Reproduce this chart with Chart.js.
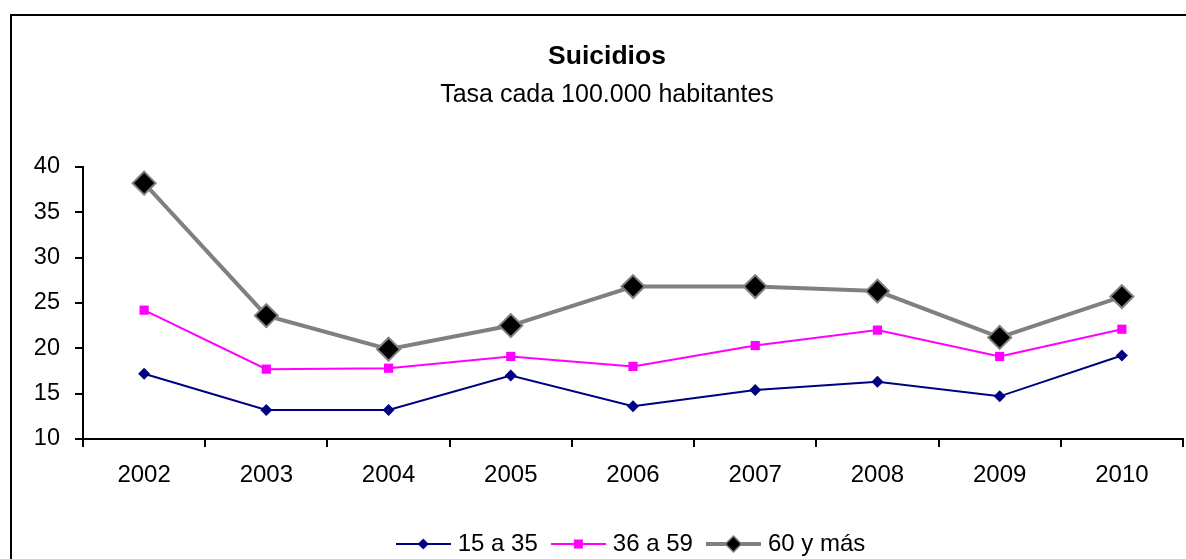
<!DOCTYPE html>
<html>
<head>
<meta charset="utf-8">
<title>Suicidios</title>
<script src="https://cdn.jsdelivr.net/npm/chart.js@4/dist/chart.umd.min.js"></script>
<style>
  html, body { margin: 0; padding: 0; background: #fff; overflow: hidden; }
  #wrap { position: absolute; left: 0; top: 0; }
</style>
</head>
<body>
<div id="wrap"><canvas id="chart" width="1216" height="566"></canvas></div>
<script>
// Categories and series (tasa cada 100.000 habitantes)
const years = ['2002', '2003', '2004', '2005', '2006', '2007', '2008', '2009', '2010'];
const tasa15a35 = [17.2, 13.2, 13.2, 17.0, 13.6, 15.4, 16.3, 14.7, 19.2];
const tasa36a59 = [24.2, 17.7, 17.8, 19.1, 18.0, 20.3, 22.0, 19.1, 22.1];
const tasa60ymas = [38.2, 23.6, 19.9, 22.5, 26.8, 26.8, 26.3, 21.2, 25.7];
const seriesNames = ['15 a 35', '36 a 59', '60 y más'];
const yTicks = [10, 15, 20, 25, 30, 35, 40];

const FONT = '"Liberation Sans", Arial, sans-serif';
Chart.defaults.color = '#000';
Chart.defaults.font.family = FONT;

// Legend swatch: short line segment with the series marker in the middle
function swatch(color, lineW, marker, fill, border, size) {
  const c = document.createElement('canvas');
  c.width = 55; c.height = 24;
  const g = c.getContext('2d');
  const cy = 12, cx = 27.5;
  g.strokeStyle = color; g.lineWidth = lineW;
  g.beginPath(); g.moveTo(0, cy); g.lineTo(55, cy); g.stroke();
  g.fillStyle = fill;
  g.beginPath();
  if (marker === 'diamond') {
    g.moveTo(cx, cy - size); g.lineTo(cx + size, cy); g.lineTo(cx, cy + size); g.lineTo(cx - size, cy); g.closePath();
  } else {
    g.rect(cx - size, cy - size, size * 2, size * 2);
  }
  g.fill();
  if (border) { g.strokeStyle = border; g.lineWidth = 1.5; g.stroke(); }
  return c;
}
const legendIcons = [
  swatch('#000080', 2, 'diamond', '#000080', null, 5.5),
  swatch('#FF00FF', 2, 'square', '#FF00FF', null, 4.5),
  swatch('#808080', 4, 'diamond', '#000000', '#808080', 8)
];

// Frame around the chart
const framePlugin = {
  id: 'frame',
  beforeDraw(chart) {
    const ctx = chart.ctx;
    ctx.save();
    ctx.fillStyle = '#fff';
    ctx.fillRect(0, 0, chart.width, chart.height);
    ctx.strokeStyle = '#000';
    ctx.lineWidth = 2;
    ctx.strokeRect(11, 15, 1400, 800);
    ctx.restore();
  }
};

new Chart(document.getElementById('chart'), {
  type: 'line',
  data: {
    labels: years,
    datasets: [
      {
        label: seriesNames[0], data: tasa15a35,
        borderColor: '#000080', backgroundColor: '#000080', borderWidth: 2,
        pointStyle: 'rectRot', pointRadius: 6, pointBorderWidth: 0, pointHoverRadius: 6
      },
      {
        label: seriesNames[1], data: tasa36a59,
        borderColor: '#FF00FF', backgroundColor: '#FF00FF', borderWidth: 2,
        pointStyle: 'rect', pointRadius: 6.5, pointBorderWidth: 0, pointHoverRadius: 6.5
      },
      {
        label: seriesNames[2], data: tasa60ymas,
        borderColor: '#808080', backgroundColor: '#000000', borderWidth: 4,
        pointStyle: 'rectRot', pointRadius: 11.5, pointBorderColor: '#808080',
        pointBorderWidth: 2, pointHoverRadius: 11.5
      }
    ]
  },
  options: {
    responsive: false,
    animation: false,
    events: [],
    layout: { padding: { left: 31, right: 33, top: 0, bottom: 0 } },
    elements: { line: { tension: 0 } },
    clip: false,
    plugins: {
      title: {
        display: true, text: 'Suicidios',
        font: { family: FONT, size: 26.5, weight: 'bold' },
        padding: { top: 41, bottom: 7 }, color: '#000'
      },
      subtitle: {
        display: true, text: 'Tasa cada 100.000 habitantes',
        font: { family: FONT, size: 25, weight: 'normal' },
        padding: { top: 0, bottom: 57 }, color: '#000'
      },
      legend: {
        position: 'bottom',
        fullSize: false,
        labels: {
          usePointStyle: true,
          pointStyleWidth: 45,
          padding: 18,
          font: { family: FONT, size: 24 },
          color: '#000',
          generateLabels(chart) {
            return chart.data.datasets.map((ds, i) => ({
              text: ds.label,
              pointStyle: legendIcons[i],
              datasetIndex: i,
              fillStyle: 'transparent',
              strokeStyle: 'transparent',
              lineWidth: 0,
              hidden: false
            }));
          }
        }
      },
      tooltip: { enabled: false }
    },
    scales: {
      x: {
        offset: true,
        afterFit(scale) { scale.height = 75; },
        grid: {
          offset: true, drawOnChartArea: false, drawTicks: true,
          tickLength: 8, color: '#000', lineWidth: 2
        },
        border: { display: true, color: '#000', width: 2 },
        ticks: { font: { family: FONT, size: 24 }, color: '#000', padding: 14, maxRotation: 0 }
      },
      y: {
        min: 10, max: 40,
        afterFit(scale) { scale.width = 52; },
        afterBuildTicks(scale) { scale.ticks = yTicks.map(v => ({ value: v })); },
        grid: {
          drawOnChartArea: false, drawTicks: true,
          tickLength: 8, color: '#000', lineWidth: 2
        },
        border: { display: true, color: '#000', width: 2 },
        ticks: { font: { family: FONT, size: 23.5 }, color: '#000', padding: 15 }
      }
    }
  },
  plugins: [framePlugin]
});
</script>
</body>
</html>
